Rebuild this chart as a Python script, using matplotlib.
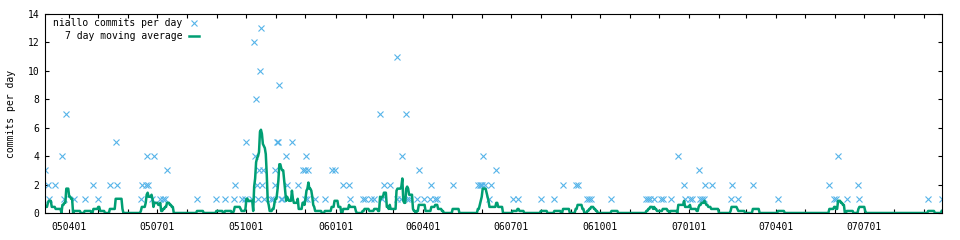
import numpy as np
import pandas as pd
import matplotlib
matplotlib.use('Agg')
import matplotlib.pyplot as plt
import matplotlib.dates as mdates

# commits per day (only days with commits are listed)
commit_dates = [
    '2005-03-07', '2005-03-10', '2005-03-11', '2005-03-17', '2005-03-25', '2005-03-27', '2005-03-29',
    '2005-04-06', '2005-04-17', '2005-04-26', '2005-05-01', '2005-05-13', '2005-05-19', '2005-05-20',
    '2005-06-14', '2005-06-15', '2005-06-19', '2005-06-20', '2005-06-21', '2005-06-25', '2005-06-28',
    '2005-07-04', '2005-07-07', '2005-07-09', '2005-07-11', '2005-08-11', '2005-08-31', '2005-09-09',
    '2005-09-18', '2005-09-19', '2005-09-26', '2005-09-30', '2005-10-01', '2005-10-07', '2005-10-09',
    '2005-10-10', '2005-10-11', '2005-10-12', '2005-10-13', '2005-10-14', '2005-10-15', '2005-10-16',
    '2005-10-17', '2005-10-18', '2005-10-19', '2005-10-26', '2005-10-28', '2005-10-30', '2005-10-31',
    '2005-11-02', '2005-11-03', '2005-11-04', '2005-11-06', '2005-11-07', '2005-11-11', '2005-11-12',
    '2005-11-17', '2005-11-23', '2005-11-28', '2005-11-30', '2005-12-01', '2005-12-02', '2005-12-03',
    '2005-12-04', '2005-12-11', '2005-12-21', '2005-12-28', '2005-12-31',
    '2006-01-09', '2006-01-15', '2006-01-16', '2006-01-29', '2006-01-31', '2006-02-07', '2006-02-10',
    '2006-02-16', '2006-02-18', '2006-02-20', '2006-02-26', '2006-03-05', '2006-03-06', '2006-03-10',
    '2006-03-11', '2006-03-15', '2006-03-16', '2006-03-18', '2006-03-26', '2006-03-28', '2006-04-02',
    '2006-04-09', '2006-04-10', '2006-04-14', '2006-04-16', '2006-05-02', '2006-05-28', '2006-05-30',
    '2006-05-31', '2006-06-01', '2006-06-02', '2006-06-04', '2006-06-09', '2006-06-11', '2006-06-16',
    '2006-07-03', '2006-07-08', '2006-08-01', '2006-08-15', '2006-08-24', '2006-09-06', '2006-09-08',
    '2006-09-18', '2006-09-20', '2006-09-22', '2006-10-13', '2006-11-18', '2006-11-20', '2006-11-22',
    '2006-11-26', '2006-12-03', '2006-12-05', '2006-12-13', '2006-12-21', '2006-12-27', '2006-12-28',
    '2007-01-02', '2007-01-04', '2007-01-11', '2007-01-12', '2007-01-14', '2007-01-17', '2007-01-18',
    '2007-01-25', '2007-02-13', '2007-02-14', '2007-02-21', '2007-03-08', '2007-04-03', '2007-05-26',
    '2007-05-31', '2007-06-02', '2007-06-04', '2007-06-13', '2007-06-25', '2007-06-26', '2007-09-05',
    '2007-09-19',
]
commit_counts = [
    3, 2, 1, 2, 4, 1, 7,
    1, 1, 2, 1, 2, 5, 2,
    1, 2, 2, 4, 2, 1, 4,
    1, 1, 1, 3, 1, 1, 1,
    1, 2, 1, 1, 5, 1, 12,
    4, 8, 2, 1, 3, 10, 13,
    2, 3, 1, 1, 1, 3, 2,
    5, 5, 9, 1, 1, 4, 2,
    5, 2, 3, 1, 3, 4, 1,
    3, 1, 1, 3, 3,
    2, 2, 1, 1, 1, 1, 1,
    7, 1, 2, 2, 11, 1, 1,
    4, 7, 1, 1, 1, 3, 1,
    1, 2, 1, 1, 2, 2, 2,
    2, 2, 4, 2, 1, 2, 3,
    1, 1, 1, 1, 2, 2, 2,
    1, 1, 1, 1, 1, 1, 1,
    1, 1, 1, 1, 4, 2, 1,
    1, 1, 3, 1, 1, 1, 2,
    2, 1, 2, 1, 2, 1, 2,
    1, 1, 4, 1, 2, 1, 1,
    1,
]
tick_dates = ['2005-04-01', '2005-07-01', '2005-10-01', '2006-01-01', '2006-04-01',
              '2006-07-01', '2006-10-01', '2007-01-01', '2007-04-01', '2007-07-01']
window = 7

plt.rcParams['font.family'] = ['DejaVu Sans Mono']
plt.rcParams['font.size'] = 7

dates = pd.to_datetime(commit_dates)
daily = pd.Series(commit_counts, index=dates)
daily = daily.reindex(pd.date_range(dates[0], dates[-1], freq='D'), fill_value=0)
moving_avg = daily.rolling(window, min_periods=1).sum() / window

fig = plt.figure(figsize=(9.6, 2.4), dpi=100)
ax = fig.add_axes([45 / 960, 27 / 240, 896.7 / 960, 199 / 240])

blue = '#56b4e9'
green = '#009e73'
ax.plot(dates, commit_counts, linestyle='none', marker='x', color=blue, ms=3.8, mew=0.8)
ax.plot(moving_avg.index, moving_avg.values, color=green, lw=1.8)

ax.set_xlim(dates[0], dates[-1])
ax.set_ylim(0, 14)
ax.set_yticks(np.arange(0, 15, 2))
ax.set_xticks(pd.to_datetime(tick_dates))
ax.xaxis.set_major_formatter(mdates.DateFormatter('%y%m%d'))
ax.xaxis.set_minor_locator(mdates.MonthLocator())
ax.tick_params(which='both', direction='in', top=True, right=True, width=0.8, color='black')
ax.tick_params(which='major', length=3)
ax.tick_params(which='minor', length=3)
ax.tick_params(axis='x', pad=6.5, labelsize=7)
ax.tick_params(axis='y', pad=4, labelsize=7)
for s in ax.spines.values():
    s.set_linewidth(0.8)

ax.set_ylabel('commits per day', fontsize=7)
ax.yaxis.set_label_coords(-0.0318, 0.5)

# gnuplot style key: right-justified text, sample on the right
ax.text(0.1536, 0.953, 'niallo commits per day', transform=ax.transAxes, ha='right', va='center')
ax.text(0.1536, 0.889, '7 day moving average', transform=ax.transAxes, ha='right', va='center')
ax.plot([0.1664], [0.953], transform=ax.transAxes, linestyle='none', marker='x', color=blue,
        ms=3.8, mew=0.8, clip_on=False)
ax.plot([0.1606, 0.1717], [0.889, 0.889], transform=ax.transAxes, color=green, lw=1.8, clip_on=False)

fig.savefig('out.png', dpi=100)
